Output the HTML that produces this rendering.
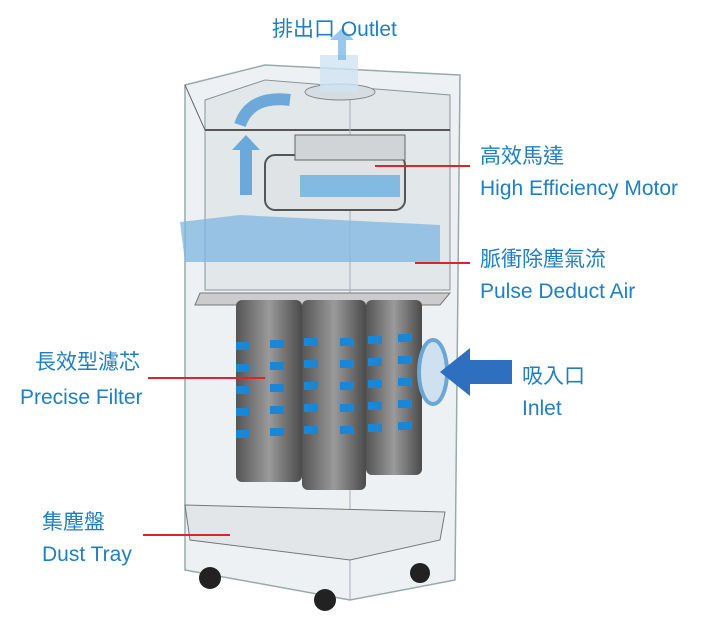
<!DOCTYPE html>
<html><head><meta charset="utf-8"><style>
body{margin:0;width:707px;height:621px;background:#fff;overflow:hidden;position:relative;font-family:"Liberation Sans","Noto Sans CJK TC",sans-serif}
.t{position:absolute;color:#1f7fc0;font-size:21px;white-space:nowrap}
.r{position:absolute;height:2px;background:#d9262c}
</style></head><body>
<svg width="707" height="621" style="position:absolute;left:0;top:0">
<defs>
<linearGradient id="cyl" x1="0" x2="1"><stop offset="0" stop-color="#555"/><stop offset=".5" stop-color="#9a9a9a"/><stop offset="1" stop-color="#4a4a4a"/></linearGradient>
<g id="col" fill="#1a86d6"><rect x="0" y="0" width="14" height="8"/><rect x="0" y="22" width="14" height="8"/><rect x="0" y="44" width="14" height="8"/><rect x="0" y="66" width="14" height="8"/><rect x="0" y="88" width="14" height="8"/></g>
</defs>
<polygon points="185,85 265,65 460,75 455,580 350,600 185,570" fill="#eef1f3" stroke="#9aa" stroke-width="1.5"/>
<polygon points="205,100 265,80 450,95 450,290 205,290" fill="#e2e7ea" stroke="#8c9499"/>
<line x1="205" y1="130" x2="450" y2="130" stroke="#555" stroke-width="2"/>
<line x1="185" y1="85" x2="205" y2="130" stroke="#666"/>
<line x1="350" y1="100" x2="350" y2="600" stroke="#aab" />
<ellipse cx="340" cy="92" rx="35" ry="8" fill="#d5dde2" stroke="#888"/>
<rect x="320" y="55" width="38" height="37" fill="#cfe3f3" opacity=".8"/>
<rect x="265" y="155" width="140" height="55" rx="10" fill="#dfe3e6" stroke="#555" stroke-width="2"/>
<rect x="300" y="175" width="100" height="22" fill="#5aa8df" opacity=".7"/>
<rect x="295" y="135" width="110" height="25" fill="#d0d4d7" stroke="#666"/>
<polygon points="180,222 240,215 440,225 440,262 185,262" fill="#7fb6e0" opacity=".75"/>
<polygon points="200,293 450,293 440,305 195,305" fill="#ccc" stroke="#777"/>
<rect x="236" y="300" width="66" height="182" rx="6" fill="url(#cyl)"/>
<rect x="302" y="300" width="64" height="190" rx="6" fill="url(#cyl)"/>
<rect x="366" y="300" width="56" height="175" rx="6" fill="url(#cyl)"/>
<use href="#col" x="236" y="342"/><use href="#col" x="270" y="340"/><use href="#col" x="304" y="338"/><use href="#col" x="340" y="338"/><use href="#col" x="368" y="336"/><use href="#col" x="398" y="334"/>
<ellipse cx="433" cy="372" rx="14" ry="32" fill="#cfe0ee" stroke="#6aa6d6" stroke-width="4"/>
<polygon points="512,360 470,360 470,348 440,372 470,396 470,384 512,384" fill="#2f6fc0"/>
<path d="M240,195 L240,150 L232,150 L246,135 L260,150 L252,150 L252,195Z" fill="#4f9ad6" opacity=".8"/>
<path d="M240,125 Q250,95 290,100" stroke="#4f9ad6" stroke-width="12" fill="none" opacity=".8"/>
<path d="M338,60 L338,40 L330,40 L342,28 L354,40 L346,40 L346,60Z" fill="#6fb0e2" opacity=".7"/>
<polygon points="185,505 445,512 440,540 350,560 190,540" fill="#e3e6e8" stroke="#777"/>
<g fill="#222"><circle cx="210" cy="578" r="11"/><circle cx="325" cy="600" r="11"/><circle cx="420" cy="573" r="10"/></g>
</svg>
<div class="t" style="left:272px;top:13px">排出口 Outlet</div>
<div class="t" style="left:480px;top:140px">高效馬達</div>
<div class="t" style="left:480px;top:177px">High Efficiency Motor</div>
<div class="t" style="left:480px;top:243px">脈衝除塵氣流</div>
<div class="t" style="left:480px;top:280px">Pulse Deduct Air</div>
<div class="t" style="left:35px;top:346px">長效型濾芯</div>
<div class="t" style="left:20px;top:386px">Precise Filter</div>
<div class="t" style="left:522px;top:360px">吸入口</div>
<div class="t" style="left:522px;top:397px">Inlet</div>
<div class="t" style="left:42px;top:506px">集塵盤</div>
<div class="t" style="left:42px;top:543px">Dust Tray</div>
<div class="r" style="left:375px;top:165px;width:95px"></div>
<div class="r" style="left:415px;top:262px;width:55px"></div>
<div class="r" style="left:148px;top:377px;width:117px"></div>
<div class="r" style="left:143px;top:534px;width:87px"></div>
</body></html>
